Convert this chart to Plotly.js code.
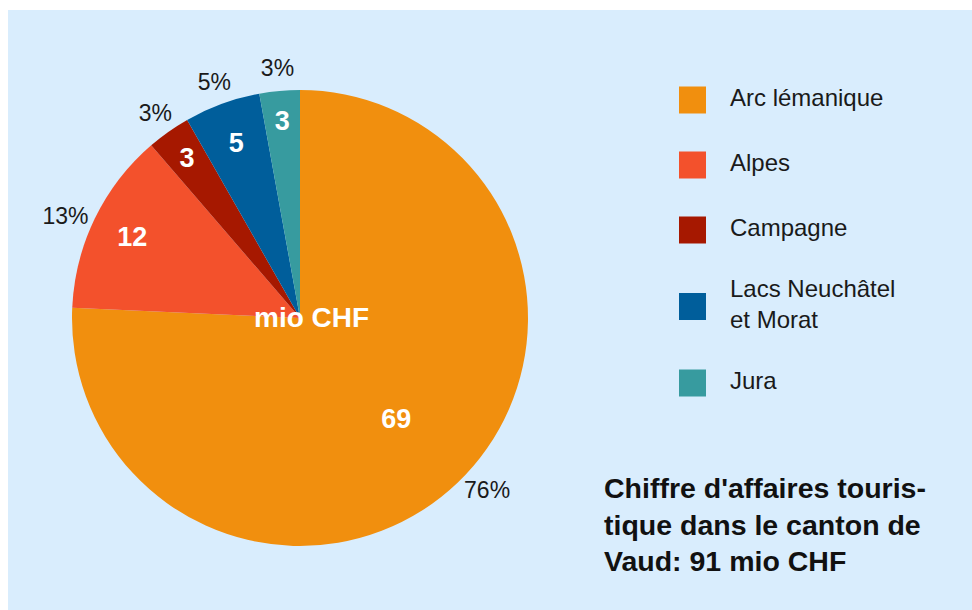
<!DOCTYPE html>
<html><head><meta charset="utf-8">
<script src="https://cdn.plot.ly/plotly-3.0.1.min.js"></script>
<style>html,body{margin:0;padding:0;background:#fff}#chart{width:972px;height:610px}</style>
</head><body><div id="chart"></div>
<script>
// ---- data ----
const regions = ['Arc lémanique', 'Alpes', 'Campagne', 'Lacs Neuchâtel<br>et Morat', 'Jura'];
const values = [68.9, 11.8, 2.8, 4.9, 2.6];   // mio CHF
const colors = ['#f18f0e', '#f3512c', '#a61800', '#005e9b', '#379b9f'];
const unitLabel = 'mio CHF';
const titleLines = ["Chiffre d'affaires touris-", "tique dans le canton de", "Vaud: 91 mio CHF"];

// ---- layout helpers ----
const W = 972, H = 610;
const CX = 300, CY = 318;
const FONT = 'Liberation Sans, Arial, sans-serif';
const plainLabels = regions.map(r => r.replace('<br>', ' '));
function dom(R) {
  return {x: [(CX - R) / W, (CX + R) / W], y: [1 - (CY + R) / H, 1 - (CY - R) / H]};
}
// which slices are large (first two) vs. small
const isBig = values.map(v => v / values.reduce((a, b) => a + b, 0) > 0.1);
const pos = (cond) => values.map((v, i) => cond(i) ? 'inside' : 'none');

const nLines = regions.map(r => r.split('<br>').length);
const legY = [];
let yy = 100;
nLines.forEach((n, i) => {
  if (i > 0) yy += 65 + 11.5 * ((nLines[i - 1] - 1) + (n - 1));
  legY.push(yy);
});

const clear = values.map(() => 'rgba(0,0,0,0)');
const common = {type: 'pie', labels: plainLabels, values: values, sort: false,
  direction: 'clockwise', rotation: 0, showlegend: false};
const valFont = {family: FONT, size: 27, color: '#ffffff', weight: 'bold'};
const pctFont = {family: FONT, size: 23, color: '#1a1a1a'};

const traces = [
  // coloured slices
  Object.assign({}, common, {
    marker: {colors: colors, line: {width: 0}}, textinfo: 'none',
    domain: dom(228), hoverinfo: 'label+value'
  }),
  // value label of the largest slice
  Object.assign({}, common, {
    marker: {colors: clear, line: {width: 0}}, hole: 0.2,
    texttemplate: '%{value:.0f}', textposition: pos(i => i === 0),
    insidetextorientation: 'horizontal', insidetextfont: valFont,
    domain: dom(232), hoverinfo: 'skip'
  }),
  // value labels of the other slices
  Object.assign({}, common, {
    marker: {colors: clear, line: {width: 0}}, hole: 0.734,
    texttemplate: '%{value:.0f}', textposition: pos(i => i !== 0),
    insidetextorientation: 'horizontal', insidetextfont: valFont,
    domain: dom(215), hoverinfo: 'skip'
  }),
  // percentage labels of large slices, outside the pie
  Object.assign({}, common, {
    marker: {colors: clear, line: {width: 0}},
    texttemplate: '%{percent:.0%}', textposition: values.map((v, i) => isBig[i] ? 'outside' : 'none'),
    outsidetextfont: pctFont,
    domain: dom(228), hoverinfo: 'skip'
  }),
  // percentage labels of small slices, in a ring just around the pie
  Object.assign({}, common, {
    marker: {colors: clear, line: {width: 0}}, hole: 0.83,
    texttemplate: '%{percent:.0%}', textposition: pos(i => !isBig[i]),
    insidetextorientation: 'horizontal', insidetextfont: pctFont,
    domain: dom(274), hoverinfo: 'skip'
  }),
  // legend squares
  {
    type: 'scatter', mode: 'markers', x: regions.map(() => 692.5), y: legY,
    marker: {symbol: 'square', size: 27, color: colors, line: {width: 0}},
    hoverinfo: 'skip', showlegend: false, cliponaxis: false
  },
  // legend texts
  {
    type: 'scatter', mode: 'text', x: regions.map(() => 730), y: legY,
    text: regions, textposition: 'middle right',
    textfont: {family: FONT, size: 24, color: '#1a1a1a'},
    hoverinfo: 'skip', showlegend: false, cliponaxis: false
  }
];

const annotations = titleLines.map((t, i) => ({
  xref: 'x', yref: 'y', x: 602, y: 488 + i * 36.5, xanchor: 'left', yanchor: 'middle',
  text: t, showarrow: false, align: 'left',
  font: {family: FONT, size: 28.5, color: '#111111', weight: 'bold'}
}));
annotations.push({
  xref: 'x', yref: 'y', x: 311, y: 317, xanchor: 'center', yanchor: 'middle',
  text: unitLabel, showarrow: false,
  font: {family: FONT, size: 28, color: '#ffffff', weight: 'bold'}
});

const layout = {
  width: W, height: H,
  margin: {l: 0, r: 0, t: 0, b: 0},
  paper_bgcolor: '#ffffff', plot_bgcolor: 'rgba(0,0,0,0)',
  showlegend: false,
  xaxis: {range: [0, W], visible: false, fixedrange: true, domain: [0, 1]},
  yaxis: {range: [H, 0], visible: false, fixedrange: true, domain: [0, 1]},
  shapes: [{type: 'rect', xref: 'x', yref: 'y', x0: 8, x1: W, y0: 10, y1: H,
            fillcolor: '#d9edfd', line: {width: 0}, layer: 'below'}],
  annotations: annotations
};

Plotly.newPlot('chart', traces, layout, {displayModeBar: false, staticPlot: true});
</script></body></html>
